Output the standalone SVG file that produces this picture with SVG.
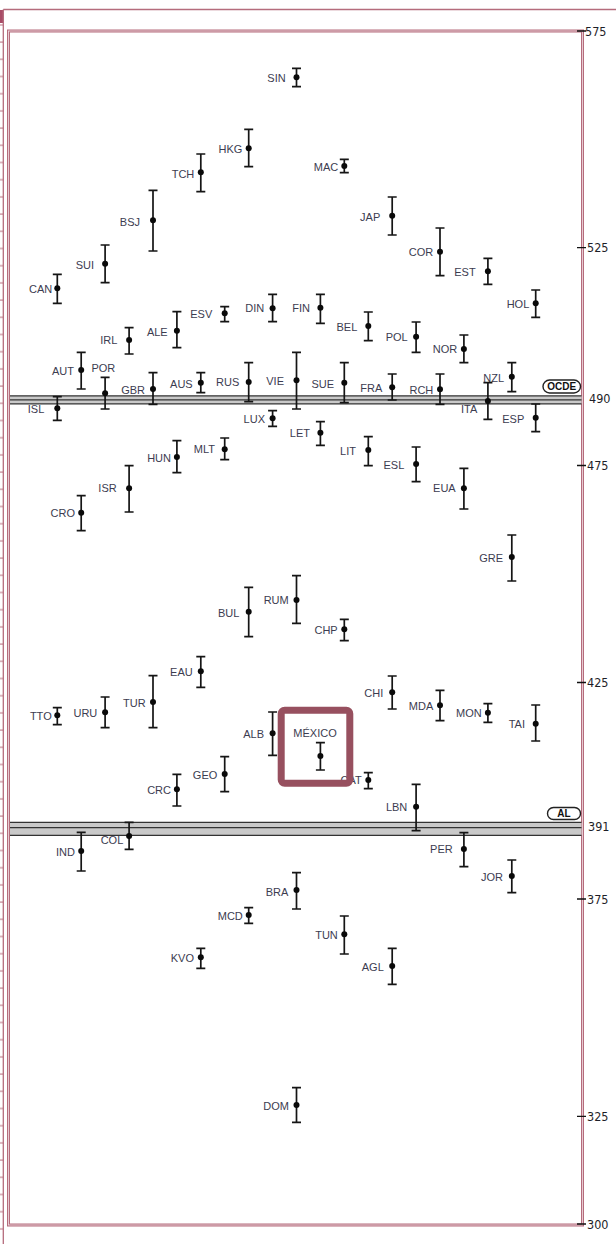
<svg xmlns="http://www.w3.org/2000/svg" width="616" height="1244" viewBox="0 0 616 1244">
<defs>
<style>
.fr{fill:none;stroke:#b56c7c}
.eb{fill:none;stroke:#151515;stroke-width:1.7}
.dt{fill:#0a0a0a}
.lb{font-family:"Liberation Sans",Arial,sans-serif;font-size:11px;fill:#3c3c50;text-anchor:end}
.ax{font-family:"Liberation Sans Narrow","DejaVu Sans Condensed","Liberation Sans",Arial,sans-serif;font-size:12.5px;fill:#1e1e28}
.tk{stroke:#111;stroke-width:1.3}
.bd{fill:#c9c9c9}
.bl{stroke:#333;stroke-width:1.2}
.pl{fill:#fff;stroke:#222;stroke-width:1.4}
.pt{font-family:"Liberation Sans",Arial,sans-serif;font-size:10px;font-weight:bold;fill:#111;text-anchor:middle}
</style>
<pattern id="rul" patternUnits="userSpaceOnUse" x="0" y="0" width="4" height="17.2">
<rect x="0" y="7.2" width="4" height="1" fill="#b56c7c"/>
</pattern>
</defs>
<rect width="616" height="1244" fill="#fff"/>
<g id="frame">
<rect x="0" y="24" width="3.3" height="1220" fill="url(#rul)"/>
<rect x="0" y="10" width="3.6" height="13" fill="#a84c66"/>
<path class="fr" stroke-width="1.3" d="M3.3 9.5H616M3.3 9.5V1244"/>
<rect class="fr" x="8.5" y="31" width="574" height="1194" stroke-width="3"/>
<rect x="8.5" y="31" width="574" height="1194" fill="none" stroke="#f3e2e6" stroke-width="0.8"/>
</g>
<g id="axis">
<path class="tk" d="M577 31H586M577 247.7H586M577 465.5H586M577 682.5H586M577 899H586M577 1116.3H586M577 1224H586"/>
<text class="ax" x="585" y="35.5">575</text>
<text class="ax" x="587" y="252.2">525</text>
<text class="ax" x="589" y="402.8">490</text>
<text class="ax" x="587" y="470">475</text>
<text class="ax" x="587" y="687">425</text>
<text class="ax" x="588" y="831.2">391</text>
<text class="ax" x="587" y="903.5">375</text>
<text class="ax" x="587" y="1120.8">325</text>
<text class="ax" x="587" y="1228.5">300</text>
</g>
<g id="connectors">
<g id="band-ocde">
<rect class="bd" x="10" y="395.8" width="571.5" height="8"/>
<path class="bl" d="M10 395.8H581.5M10 399.8H581.5M10 403.8H581.5"/>
</g>
<g id="band-al">
<rect class="bd" x="10" y="822.3" width="571.5" height="13"/>
<path class="bl" d="M10 822.3H581.5M10 827.6H581.5M10 835.3H581.5"/>
</g>
</g>
<g id="n-OCDE"><rect class="pl" x="543" y="380" width="37.5" height="13" rx="6.5"/><text class="pt" x="561.8" y="390.3">OCDE</text></g>
<g id="n-AL"><rect class="pl" x="547.5" y="807.5" width="33" height="12" rx="6"/><text class="pt" x="564" y="817.2">AL</text></g>
<g id="n-SIN"><path class="eb" d="M296.5 68.3V86.7M292 68.3h9M292 86.7h9"/><circle class="dt" cx="296.5" cy="77.3" r="3"/><text class="lb" x="285.7" y="82.2">SIN</text></g>
<g id="n-HKG"><path class="eb" d="M248.7 129.3V166.7M244.2 129.3h9M244.2 166.7h9"/><circle class="dt" cx="248.7" cy="148.3" r="3"/><text class="lb" x="242.3" y="152.9">HKG</text></g>
<g id="n-TCH"><path class="eb" d="M200.8 154V191.7M196.3 154h9M196.3 191.7h9"/><circle class="dt" cx="200.8" cy="172.3" r="3"/><text class="lb" x="194.3" y="177.6">TCH</text></g>
<g id="n-BSJ"><path class="eb" d="M153 190.3V251M148.5 190.3h9M148.5 251h9"/><circle class="dt" cx="153" cy="220.3" r="3"/><text class="lb" x="140" y="225.6">BSJ</text></g>
<g id="n-SUI"><path class="eb" d="M105.1 245V282.7M100.6 245h9M100.6 282.7h9"/><circle class="dt" cx="105.1" cy="263.7" r="3"/><text class="lb" x="94" y="268.9">SUI</text></g>
<g id="n-CAN"><path class="eb" d="M57.3 274.3V303.3M52.8 274.3h9M52.8 303.3h9"/><circle class="dt" cx="57.3" cy="288.3" r="3"/><text class="lb" x="52.3" y="293.2">CAN</text></g>
<g id="n-MAC"><path class="eb" d="M344.3 159.3V172.7M339.8 159.3h9M339.8 172.7h9"/><circle class="dt" cx="344.3" cy="166" r="3"/><text class="lb" x="338.3" y="170.6">MAC</text></g>
<g id="n-JAP"><path class="eb" d="M392.2 197V235M387.7 197h9M387.7 235h9"/><circle class="dt" cx="392.2" cy="215.7" r="3"/><text class="lb" x="380.3" y="220.6">JAP</text></g>
<g id="n-COR"><path class="eb" d="M440 228V275.7M435.5 228h9M435.5 275.7h9"/><circle class="dt" cx="440" cy="251.7" r="3"/><text class="lb" x="433.3" y="255.6">COR</text></g>
<g id="n-EST"><path class="eb" d="M487.9 258.3V284.3M483.4 258.3h9M483.4 284.3h9"/><circle class="dt" cx="487.9" cy="271.3" r="3"/><text class="lb" x="475.7" y="276.2">EST</text></g>
<g id="n-HOL"><path class="eb" d="M535.7 290V317.3M531.2 290h9M531.2 317.3h9"/><circle class="dt" cx="535.7" cy="303.3" r="3"/><text class="lb" x="529.3" y="308.2">HOL</text></g>
<g id="n-DIN"><path class="eb" d="M272.6 294.3V321.7M268.1 294.3h9M268.1 321.7h9"/><circle class="dt" cx="272.6" cy="308.3" r="3"/><text class="lb" x="264.3" y="312.2">DIN</text></g>
<g id="n-FIN"><path class="eb" d="M320.4 294.3V323.3M315.9 294.3h9M315.9 323.3h9"/><circle class="dt" cx="320.4" cy="307.7" r="3"/><text class="lb" x="310" y="312.2">FIN</text></g>
<g id="n-ESV"><path class="eb" d="M224.7 306.7V321.7M220.2 306.7h9M220.2 321.7h9"/><circle class="dt" cx="224.7" cy="313.3" r="3"/><text class="lb" x="212.3" y="318.2">ESV</text></g>
<g id="n-ALE"><path class="eb" d="M176.9 311.7V347.7M172.4 311.7h9M172.4 347.7h9"/><circle class="dt" cx="176.9" cy="330.7" r="3"/><text class="lb" x="167.7" y="335.6">ALE</text></g>
<g id="n-IRL"><path class="eb" d="M129.1 327.7V354M124.6 327.7h9M124.6 354h9"/><circle class="dt" cx="129.1" cy="340" r="3"/><text class="lb" x="117.3" y="343.9">IRL</text></g>
<g id="n-BEL"><path class="eb" d="M368.3 312V340.7M363.8 312h9M363.8 340.7h9"/><circle class="dt" cx="368.3" cy="326" r="3"/><text class="lb" x="357.3" y="330.6">BEL</text></g>
<g id="n-POL"><path class="eb" d="M416.1 322V352.3M411.6 322h9M411.6 352.3h9"/><circle class="dt" cx="416.1" cy="336.7" r="3"/><text class="lb" x="407.7" y="341.2">POL</text></g>
<g id="n-NOR"><path class="eb" d="M463.9 335V362.7M459.4 335h9M459.4 362.7h9"/><circle class="dt" cx="463.9" cy="349" r="3"/><text class="lb" x="457.3" y="352.9">NOR</text></g>
<g id="n-AUT"><path class="eb" d="M81.2 352.3V389M76.7 352.3h9M76.7 389h9"/><circle class="dt" cx="81.2" cy="370" r="3"/><text class="lb" x="74" y="374.6">AUT</text></g>
<g id="n-POR"><path class="eb" d="M105.1 377.3V409M100.6 377.3h9M100.6 409h9"/><circle class="dt" cx="105.1" cy="393.3" r="3"/><text class="lb" x="115.3" y="372.2">POR</text></g>
<g id="n-GBR"><path class="eb" d="M153 372.7V404.3M148.5 372.7h9M148.5 404.3h9"/><circle class="dt" cx="153" cy="389" r="3"/><text class="lb" x="145" y="393.9">GBR</text></g>
<g id="n-AUS"><path class="eb" d="M200.8 372.7V392.7M196.3 372.7h9M196.3 392.7h9"/><circle class="dt" cx="200.8" cy="382.7" r="3"/><text class="lb" x="192.7" y="387.6">AUS</text></g>
<g id="n-RUS"><path class="eb" d="M248.7 362.7V401.7M244.2 362.7h9M244.2 401.7h9"/><circle class="dt" cx="248.7" cy="382" r="3"/><text class="lb" x="239.3" y="385.9">RUS</text></g>
<g id="n-VIE"><path class="eb" d="M296.5 352.3V409M292 352.3h9M292 409h9"/><circle class="dt" cx="296.5" cy="380.3" r="3"/><text class="lb" x="284" y="384.9">VIE</text></g>
<g id="n-SUE"><path class="eb" d="M344.3 362.7V402.7M339.8 362.7h9M339.8 402.7h9"/><circle class="dt" cx="344.3" cy="382.7" r="3"/><text class="lb" x="334" y="387.9">SUE</text></g>
<g id="n-FRA"><path class="eb" d="M392.2 374V400M387.7 374h9M387.7 400h9"/><circle class="dt" cx="392.2" cy="387.3" r="3"/><text class="lb" x="382.3" y="392.2">FRA</text></g>
<g id="n-RCH"><path class="eb" d="M440 374V404.3M435.5 374h9M435.5 404.3h9"/><circle class="dt" cx="440" cy="389.3" r="3"/><text class="lb" x="433.3" y="393.9">RCH</text></g>
<g id="n-NZL"><path class="eb" d="M511.8 362.7V391.7M507.3 362.7h9M507.3 391.7h9"/><circle class="dt" cx="511.8" cy="376.7" r="3"/><text class="lb" x="504" y="382.2">NZL</text></g>
<g id="n-ITA"><path class="eb" d="M487.9 382.7V419.3M483.4 382.7h9M483.4 419.3h9"/><circle class="dt" cx="487.9" cy="401" r="3"/><text class="lb" x="477.3" y="412.9">ITA</text></g>
<g id="n-ESP"><path class="eb" d="M535.7 404V431.7M531.2 404h9M531.2 431.7h9"/><circle class="dt" cx="535.7" cy="417.7" r="3"/><text class="lb" x="524.3" y="422.9">ESP</text></g>
<g id="n-ISL"><path class="eb" d="M57.3 396.7V420.3M52.8 396.7h9M52.8 420.3h9"/><circle class="dt" cx="57.3" cy="408.3" r="3"/><text class="lb" x="44.3" y="412.9">ISL</text></g>
<g id="n-LUX"><path class="eb" d="M272.6 410.7V426.3M268.1 410.7h9M268.1 426.3h9"/><circle class="dt" cx="272.6" cy="418.3" r="3"/><text class="lb" x="265" y="422.9">LUX</text></g>
<g id="n-LET"><path class="eb" d="M320.4 421.7V445.3M315.9 421.7h9M315.9 445.3h9"/><circle class="dt" cx="320.4" cy="432.7" r="3"/><text class="lb" x="310" y="437.2">LET</text></g>
<g id="n-HUN"><path class="eb" d="M176.9 440.7V472.7M172.4 440.7h9M172.4 472.7h9"/><circle class="dt" cx="176.9" cy="457" r="3"/><text class="lb" x="171" y="461.6">HUN</text></g>
<g id="n-MLT"><path class="eb" d="M224.7 438V459.7M220.2 438h9M220.2 459.7h9"/><circle class="dt" cx="224.7" cy="449.3" r="3"/><text class="lb" x="215" y="452.9">MLT</text></g>
<g id="n-LIT"><path class="eb" d="M368.3 436.7V465.7M363.8 436.7h9M363.8 465.7h9"/><circle class="dt" cx="368.3" cy="450" r="3"/><text class="lb" x="356" y="454.9">LIT</text></g>
<g id="n-ESL"><path class="eb" d="M416.1 447V481.7M411.6 447h9M411.6 481.7h9"/><circle class="dt" cx="416.1" cy="464" r="3"/><text class="lb" x="404.3" y="468.9">ESL</text></g>
<g id="n-EUA"><path class="eb" d="M463.9 468.3V509M459.4 468.3h9M459.4 509h9"/><circle class="dt" cx="463.9" cy="488.3" r="3"/><text class="lb" x="455.7" y="492.2">EUA</text></g>
<g id="n-ISR"><path class="eb" d="M129.1 465.7V512M124.6 465.7h9M124.6 512h9"/><circle class="dt" cx="129.1" cy="488.3" r="3"/><text class="lb" x="116.7" y="492.2">ISR</text></g>
<g id="n-CRO"><path class="eb" d="M81.2 495.7V530.7M76.7 495.7h9M76.7 530.7h9"/><circle class="dt" cx="81.2" cy="512.7" r="3"/><text class="lb" x="75" y="516.6">CRO</text></g>
<g id="n-GRE"><path class="eb" d="M511.8 535V581M507.3 535h9M507.3 581h9"/><circle class="dt" cx="511.8" cy="557" r="3"/><text class="lb" x="503" y="561.9">GRE</text></g>
<g id="n-BUL"><path class="eb" d="M248.7 587.3V636.7M244.2 587.3h9M244.2 636.7h9"/><circle class="dt" cx="248.7" cy="611.7" r="3"/><text class="lb" x="239.3" y="617.2">BUL</text></g>
<g id="n-RUM"><path class="eb" d="M296.5 575.7V623.3M292 575.7h9M292 623.3h9"/><circle class="dt" cx="296.5" cy="600" r="3"/><text class="lb" x="288.7" y="603.9">RUM</text></g>
<g id="n-CHP"><path class="eb" d="M344.3 619.3V640.7M339.8 619.3h9M339.8 640.7h9"/><circle class="dt" cx="344.3" cy="629.3" r="3"/><text class="lb" x="337.7" y="633.9">CHP</text></g>
<g id="n-EAU"><path class="eb" d="M200.8 656.7V687.3M196.3 656.7h9M196.3 687.3h9"/><circle class="dt" cx="200.8" cy="671.3" r="3"/><text class="lb" x="192.7" y="676.2">EAU</text></g>
<g id="n-TUR"><path class="eb" d="M153 675.7V727.7M148.5 675.7h9M148.5 727.7h9"/><circle class="dt" cx="153" cy="702" r="3"/><text class="lb" x="145.7" y="706.6">TUR</text></g>
<g id="n-URU"><path class="eb" d="M105.1 697V727.7M100.6 697h9M100.6 727.7h9"/><circle class="dt" cx="105.1" cy="712.3" r="3"/><text class="lb" x="97.3" y="717.2">URU</text></g>
<g id="n-TTO"><path class="eb" d="M57.3 707.7V724.7M52.8 707.7h9M52.8 724.7h9"/><circle class="dt" cx="57.3" cy="715.3" r="3"/><text class="lb" x="51.7" y="719.6">TTO</text></g>
<g id="n-CHI"><path class="eb" d="M392.2 676V709M387.7 676h9M387.7 709h9"/><circle class="dt" cx="392.2" cy="692.3" r="3"/><text class="lb" x="383.3" y="696.6">CHI</text></g>
<g id="n-MDA"><path class="eb" d="M440 690.3V720.7M435.5 690.3h9M435.5 720.7h9"/><circle class="dt" cx="440" cy="705.3" r="3"/><text class="lb" x="433.3" y="709.9">MDA</text></g>
<g id="n-MON"><path class="eb" d="M487.9 703.7V722.3M483.4 703.7h9M483.4 722.3h9"/><circle class="dt" cx="487.9" cy="712.7" r="3"/><text class="lb" x="481.7" y="717.2">MON</text></g>
<g id="n-TAI"><path class="eb" d="M535.7 705V741M531.2 705h9M531.2 741h9"/><circle class="dt" cx="535.7" cy="723.7" r="3"/><text class="lb" x="525" y="728.2">TAI</text></g>
<g id="n-ALB"><path class="eb" d="M272.6 712V755.3M268.1 712h9M268.1 755.3h9"/><circle class="dt" cx="272.6" cy="733.3" r="3"/><text class="lb" x="264" y="737.9">ALB</text></g>
<g id="n-CAT"><path class="eb" d="M368.3 772.7V788.7M363.8 772.7h9M363.8 788.7h9"/><circle class="dt" cx="368.3" cy="780" r="3"/><text class="lb" x="361.7" y="783.9">CAT</text></g>
<g id="n-MEX"><path class="eb" d="M320.4 742.7V770M315.9 742.7h9M315.9 770h9"/><circle class="dt" cx="320.4" cy="756" r="3"/><text class="lb" x="315" y="736.6" text-anchor="middle" style="text-anchor:middle">MÉXICO</text><rect x="281.2" y="710.2" width="68.6" height="73" rx="3.5" fill="none" stroke="#97505f" stroke-width="7"/></g>
<g id="n-GEO"><path class="eb" d="M224.7 756.7V791.7M220.2 756.7h9M220.2 791.7h9"/><circle class="dt" cx="224.7" cy="774" r="3"/><text class="lb" x="217.3" y="778.9">GEO</text></g>
<g id="n-CRC"><path class="eb" d="M176.9 774.3V806M172.4 774.3h9M172.4 806h9"/><circle class="dt" cx="176.9" cy="789.3" r="3"/><text class="lb" x="171" y="793.9">CRC</text></g>
<g id="n-LBN"><path class="eb" d="M416.1 784.3V830.7M411.6 784.3h9M411.6 830.7h9"/><circle class="dt" cx="416.1" cy="806.7" r="3"/><text class="lb" x="407.3" y="811.2">LBN</text></g>
<g id="n-COL"><path class="eb" d="M129.1 822.3V849.3M124.6 822.3h9M124.6 849.3h9"/><circle class="dt" cx="129.1" cy="836" r="3"/><text class="lb" x="123.3" y="843.9">COL</text></g>
<g id="n-IND"><path class="eb" d="M81.2 832.3V871M76.7 832.3h9M76.7 871h9"/><circle class="dt" cx="81.2" cy="851" r="3"/><text class="lb" x="75" y="856.2">IND</text></g>
<g id="n-PER"><path class="eb" d="M463.9 832.7V866.7M459.4 832.7h9M459.4 866.7h9"/><circle class="dt" cx="463.9" cy="849" r="3"/><text class="lb" x="452.7" y="853.2">PER</text></g>
<g id="n-JOR"><path class="eb" d="M511.8 860V892.7M507.3 860h9M507.3 892.7h9"/><circle class="dt" cx="511.8" cy="876" r="3"/><text class="lb" x="503" y="880.6">JOR</text></g>
<g id="n-BRA"><path class="eb" d="M296.5 872.7V909M292 872.7h9M292 909h9"/><circle class="dt" cx="296.5" cy="890" r="3"/><text class="lb" x="288.3" y="895.6">BRA</text></g>
<g id="n-MCD"><path class="eb" d="M248.7 907.7V923.3M244.2 907.7h9M244.2 923.3h9"/><circle class="dt" cx="248.7" cy="915" r="3"/><text class="lb" x="242.8" y="919.6">MCD</text></g>
<g id="n-TUN"><path class="eb" d="M344.3 916V954M339.8 916h9M339.8 954h9"/><circle class="dt" cx="344.3" cy="934.3" r="3"/><text class="lb" x="337.8" y="938.9">TUN</text></g>
<g id="n-KVO"><path class="eb" d="M200.8 948.3V968.3M196.3 948.3h9M196.3 968.3h9"/><circle class="dt" cx="200.8" cy="957.3" r="3"/><text class="lb" x="194" y="962.2">KVO</text></g>
<g id="n-AGL"><path class="eb" d="M392.2 948.3V984.3M387.7 948.3h9M387.7 984.3h9"/><circle class="dt" cx="392.2" cy="966" r="3"/><text class="lb" x="383.8" y="970.6">AGL</text></g>
<g id="n-DOM"><path class="eb" d="M296.5 1087.7V1122.3M292 1087.7h9M292 1122.3h9"/><circle class="dt" cx="296.5" cy="1105" r="3"/><text class="lb" x="289" y="1109.9">DOM</text></g>
</svg>
